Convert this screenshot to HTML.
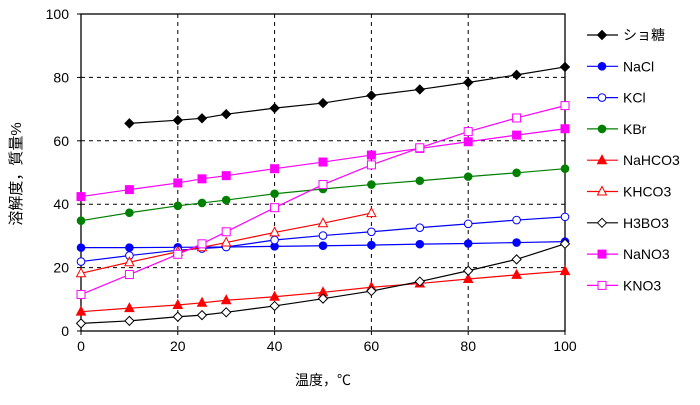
<!DOCTYPE html>
<html><head><meta charset="utf-8"><style>
body{margin:0;background:#fff;}
svg text{font-family:"Liberation Sans","Noto Sans CJK JP",sans-serif;font-size:14px;fill:#000;}
</style></head><body>
<svg id="chart" width="700" height="400" xmlns="http://www.w3.org/2000/svg"></svg>
<script>
const xTicks=[0,20,40,60,80,100];
const yTicks=[0,20,40,60,80,100];
const names=["ショ糖","NaCl","KCl","KBr","NaHCO3","KHCO3","H3BO3","NaNO3","KNO3"];
const xFull=[0,10,20,25,30,40,50,60,70,80,90,100];
const xSugar=[10,20,25,30,40,50,60,70,80,90,100];
const xNaCl=[0,10,20,30,40,50,60,70,80,90,100];
const xKHCO3=[0,10,20,25,30,40,50,60];
const ySugar=[65.5,66.5,67.1,68.4,70.3,71.9,74.3,76.2,78.4,80.8,83.3];
const yNaCl=[26.3,26.3,26.4,26.5,26.7,26.9,27.1,27.4,27.6,27.9,28.2];
const yKCl=[21.9,23.8,25.5,26.0,26.5,28.7,30.1,31.3,32.6,33.8,35.0,36.0];
const yKBr=[34.8,37.3,39.5,40.4,41.3,43.3,44.8,46.2,47.4,48.7,49.9,51.2];
const yNaHCO3=[6.1,7.2,8.2,8.9,9.7,10.8,12.2,13.8,15.0,16.4,17.7,18.9];
const yKHCO3=[18.2,21.7,25.0,26.4,27.9,31.1,34.0,37.2];
const yH3BO3=[2.4,3.2,4.5,5.0,5.9,7.9,10.2,12.6,15.6,19.0,22.6,27.5];
const yNaNO3=[42.4,44.6,46.7,48.0,49.0,51.2,53.3,55.5,57.6,59.7,61.8,63.8];
const yKNO3=[11.5,17.8,24.2,27.5,31.3,38.9,46.2,52.4,57.8,62.9,67.2,71.1];
const series=[
 {xs:xSugar,ys:ySugar,c:"#000",m:"diamond",f:true},
 {xs:xNaCl,ys:yNaCl,c:"#0000ff",m:"circle",f:true},
 {xs:xFull,ys:yKCl,c:"#0000ff",m:"circle",f:false},
 {xs:xFull,ys:yKBr,c:"#008000",m:"circle",f:true},
 {xs:xFull,ys:yNaHCO3,c:"#ff0000",m:"tri",f:true},
 {xs:xKHCO3,ys:yKHCO3,c:"#ff0000",m:"tri",f:false},
 {xs:xFull,ys:yH3BO3,c:"#000",m:"diamond",f:false},
 {xs:xFull,ys:yNaNO3,c:"#ff00ff",m:"square",f:true},
 {xs:xFull,ys:yKNO3,c:"#ff00ff",m:"square",f:false}
];
const L=81,R=565,T=14,B=331;
const sx=v=>L+(R-L)*v/100, sy=v=>B-(B-T)*v/100;
const svg=document.getElementById('chart');
const NS="http://www.w3.org/2000/svg";
function mk(tag,attrs,parent){const e=document.createElementNS(NS,tag);for(const k in attrs)e.setAttribute(k,attrs[k]);(parent||svg).appendChild(e);return e;}
function marker(g,m,x,y,c,f){
 const fill=f?c:"#fff";let e;
 if(m=="diamond")e=mk('polygon',{points:`${x},${y-4.5} ${x+4.5},${y} ${x},${y+4.5} ${x-4.5},${y}`,fill,stroke:c,'stroke-width':1},g);
 else if(m=="circle")e=mk('circle',{cx:x,cy:y,r:3.8,fill,stroke:c,'stroke-width':1},g);
 else if(m=="tri")e=mk('polygon',{points:`${x},${y-5} ${x+4.5},${y+3.5} ${x-4.5},${y+3.5}`,fill,stroke:c,'stroke-width':1},g);
 else e=mk('rect',{x:x-4,y:y-4,width:8,height:8,fill,stroke:c,'stroke-width':1},g);
 
 
}
const grid=mk('g',{});


xTicks.forEach(v=>{if(v>0&&v<100)mk('line',{x1:sx(v),x2:sx(v),y1:T,y2:B,stroke:'#000','stroke-dasharray':'4,4'},grid);});
yTicks.forEach(v=>{if(v>0&&v<100)mk('line',{x1:L,x2:R,y1:sy(v),y2:sy(v),stroke:'#000','stroke-dasharray':'4,4'},grid);});
const frame=mk('rect',{x:L,y:T,width:R-L,height:B-T,fill:'none',stroke:'#000','stroke-width':1.3});


xTicks.forEach(v=>{mk('line',{x1:sx(v),x2:sx(v),y1:B,y2:B+4,stroke:'#000'});
 const t=mk('text',{x:sx(v),y:B+20,'text-anchor':'middle'});t.textContent=v;
 
 });
yTicks.forEach(v=>{mk('line',{x1:L-4,x2:L,y1:sy(v),y2:sy(v),stroke:'#000'});
 const t=mk('text',{x:L-12,y:sy(v)+5,'text-anchor':'end'});t.textContent=v;
 
 });
series.forEach((s,i)=>{
 const g=mk('g',{});
 
 
 mk('polyline',{points:s.xs.map((x,j)=>sx(x)+','+sy(s.ys[j])).join(' '),fill:'none',stroke:s.c,'stroke-width':1.2},g);
 s.xs.forEach((x,j)=>marker(g,s.m,sx(x),sy(s.ys[j]),s.c,s.f));
 const lg=mk('g',{});
 
 
 const ly=35+i*31.3;
 mk('line',{x1:587,x2:618,y1:ly,y2:ly,stroke:s.c,'stroke-width':1.2},lg);
 marker(lg,s.m,602,ly,s.c,s.f);
 const t=mk('text',{x:623,y:ly+5},lg);t.textContent=names[i];
});
const xt=mk('text',{x:323,y:385,'text-anchor':'middle'});xt.textContent="温度，℃";


const yt=mk('text',{x:0,y:0,'text-anchor':'middle','font-size':'15',style:'font-size:15px',transform:'translate(21,174) rotate(-90)'});yt.textContent="溶解度，質量%";


</script>
</body></html>
